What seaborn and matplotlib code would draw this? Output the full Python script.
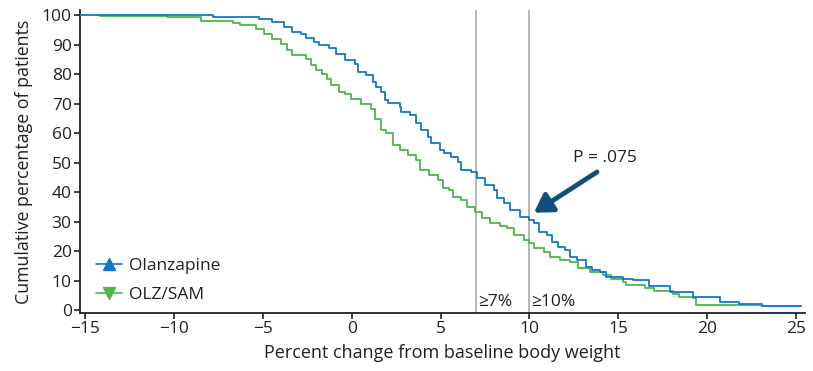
import matplotlib
matplotlib.use("Agg")
import matplotlib.pyplot as plt
from matplotlib.lines import Line2D
import seaborn as sns
import pandas as pd

# ---- data ----
olz_x = [-15.3, -7.8, -5.9, -5.2, -4.5, -3.8, -3.38, -2.88, -2.6, -2.15, -1.87,
         -1.3, -0.87, -0.36, 0.2, 0.36, 0.8, 1.2, 1.37, 1.65, 1.87, 2.04, 2.69,
         2.77, 3.3, 3.6, 3.9, 4.27, 4.45, 4.94, 5.2, 5.56, 5.95, 6.12, 6.68, 7.07,
         7.5, 8.0, 8.18, 8.56, 8.93, 9.49, 9.96, 10.23, 10.51, 10.98, 11.26, 11.63,
         12.0, 12.28, 12.65, 13.2, 13.5, 13.96, 14.33, 15.26, 15.8, 16.7, 17.9,
         19.2, 20.7, 21.8, 23.1, 25.3]
olz_y = [100, 99.5, 99.2, 98.5, 97.6, 95.9, 94.2, 93.7, 92.2, 90.8, 89.7,
         88.8, 86.9, 84.6, 83.5, 80.7, 79.6, 77.3, 75.6, 73.9, 71.2, 70.1, 68.9,
         67.2, 66.1, 63.4, 61.0, 58.7, 56.6, 54.2, 53.2, 52.0, 50.3, 47.5, 46.9, 44.6,
         42.4, 40.7, 38.0, 36.2, 33.9, 31.6, 30.5, 29.4, 26.5, 25.4, 23.2, 21.5,
         20.3, 18.1, 16.9, 14.7, 13.6, 13.0, 11.3, 10.7, 10.2, 8.3, 6.1,
         4.4, 2.7, 2.2, 1.4, 1.4]

sam_x = [-14.2, -10.4, -8.5, -6.7, -6.3, -5.39, -4.94, -4.5, -4.0, -3.66, -3.38,
         -2.6, -2.32, -2.04, -1.7, -1.42, -1.15, -0.75, -0.36, -0.03, 0.53, 1.09,
         1.31, 1.65, 1.93, 2.32, 2.69, 3.16, 3.6, 3.81, 4.37, 4.83, 5.11, 5.49,
         5.67, 6.13, 6.5, 6.96, 7.35, 7.8, 8.35, 8.74, 9.12, 9.68, 9.96, 10.23,
         10.8, 11.16, 11.72, 12.28, 12.75, 13.4, 14.15, 14.6, 15.26, 15.45, 16.5,
         17.0, 18.1, 18.4, 19.2, 19.4, 23.1, 25.3]
sam_y = [99.6, 99.2, 98.0, 97.3, 96.5, 95.4, 93.7, 92.0, 90.3, 88.0, 86.3,
         85.2, 83.0, 81.3, 80.1, 78.4, 76.2, 73.9, 73.3, 71.6, 69.9, 68.2,
         64.8, 61.0, 59.9, 55.9, 54.2, 52.5, 50.8, 47.5, 45.8, 44.1, 41.3, 40.7,
         38.4, 37.3, 35.0, 33.3, 31.1, 29.4, 28.4, 27.7, 25.4, 23.7, 22.6, 20.9,
         19.8, 18.1, 16.9, 16.4, 14.1, 13.0, 11.9, 10.7, 9.6, 8.5, 7.4,
         6.4, 5.6, 4.4, 4.0, 1.8, 1.4, 1.4]

series_names = ["Olanzapine", "OLZ/SAM"]
x_ticks = [-15, -10, -5, 0, 5, 10, 15, 20, 25]
x_tick_labels = ["\u221215", "\u221210", "\u22125", "0", "5", "10", "15", "20", "25"]
y_ticks = [0, 10, 20, 30, 40, 50, 60, 70, 80, 90, 100]
cutoffs = [7, 10]
cutoff_labels = ["≥7%", "≥10%"]

BLUE = "#1177c6"
GREEN = "#4cb848"
TXT = "#231f20"

sns.set_theme(style="ticks")
plt.rcParams["font.family"] = ["Open Sans", "DejaVu Sans"]

fig = plt.figure(figsize=(8.13, 3.71), dpi=100)
ax = fig.add_axes([0.0984, 0.157, 0.8916, 0.816])

df = pd.concat([
    pd.DataFrame({"x": olz_x, "y": olz_y, "grp": series_names[0]}),
    pd.DataFrame({"x": sam_x, "y": sam_y, "grp": series_names[1]}),
])

# cutoff lines
for c in cutoffs:
    ax.axvline(c, color="#aaaaaa", lw=1.2, zorder=1)

sns.lineplot(data=df[df.grp == series_names[1]], x="x", y="y", color=GREEN,
             drawstyle="steps-post", estimator=None, lw=1.3, ax=ax, zorder=2)
sns.lineplot(data=df[df.grp == series_names[0]], x="x", y="y", color=BLUE,
             drawstyle="steps-post", estimator=None, lw=1.3, ax=ax, zorder=3)

ax.set_xlim(-15.3, 25.5)
ax.set_ylim(-0.9, 101.7)
ax.set_xticks(x_ticks)
ax.set_xticklabels(x_tick_labels)
ax.set_yticks(y_ticks)
ax.tick_params(axis="both", labelsize=12.5, length=4, width=1.2, color=TXT,
               labelcolor=TXT, pad=2)
for s in ["left", "bottom"]:
    ax.spines[s].set_linewidth(1.3)
    ax.spines[s].set_color(TXT)
sns.despine(ax=ax)

ax.set_xlabel("Percent change from baseline body weight", fontsize=13, color=TXT, labelpad=5)
ax.set_ylabel("Cumulative percentage of patients", fontsize=12.8, color=TXT, labelpad=6)

# cutoff labels
for c, lab in zip(cutoffs, cutoff_labels):
    ax.text(c + 0.1, 0.2, lab, fontsize=12.5, color=TXT, ha="left", va="bottom")

# P-value annotation
ax.annotate("", xy=(10.25, 33.0), xytext=(13.8, 46.8),
            arrowprops=dict(arrowstyle="-|>,head_length=0.9,head_width=0.55",
                            color="#0e4f7c", lw=3.5, shrinkA=0, shrinkB=0))
ax.text(14.25, 51.5, "P = .075", fontsize=12.5, color=TXT, ha="center", va="center")

handles = [
    Line2D([0], [0], color=BLUE, marker="^", markersize=8, lw=1.2),
    Line2D([0], [0], color=GREEN, marker="v", markersize=8, lw=1.2),
]
ax.legend(handles, series_names, loc="lower left", bbox_to_anchor=(0.0, -0.02),
          frameon=False, fontsize=12.5, handlelength=1.5, handletextpad=0.4,
          labelspacing=0.75, labelcolor=TXT)

fig.savefig("out.png", dpi=100)
